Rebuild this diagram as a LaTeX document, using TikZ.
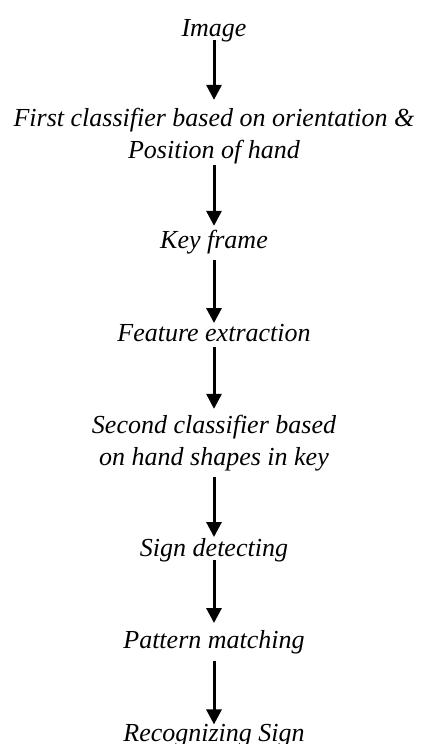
\documentclass[tikz,border=0pt]{standalone}
\usepackage{fontspec}
\setmainfont{Liberation Serif}
\usetikzlibrary{arrows.meta}
\begin{document}
\begin{tikzpicture}[x=1pt,y=-1pt,
  lbl/.style={inner sep=0pt, align=center, font=\fontsize{26}{32}\selectfont\itshape},
  arr/.style={line width=3pt, -{Triangle[width=15pt,length=15pt]}}]
\useasboundingbox (0,0) rectangle (426,744);
\node[lbl] (img)  at (214,31)    {Image};
\node[lbl] (fc)   at (214,136)   {First classifier based on orientation \&\\Position of hand};
\node[lbl] (key)  at (214,242)   {Key frame};
\node[lbl] (feat) at (214,333)   {Feature extraction};
\node[lbl] (sec)  at (214,443)   {Second classifier based\\on hand shapes in key};
\node[lbl] (sign) at (214,550)   {Sign detecting};
\node[lbl] (pat)  at (214,642)   {Pattern matching};
\node[lbl] (rec)  at (214,736)   {Recognizing Sign};
\draw[arr, shorten <=-2pt, shorten >=8pt] (img.south) -- (fc.north);
\draw[arr, shorten <=1pt,  shorten >=4pt] (fc.south) -- (key.north);
\draw[arr, shorten <=6pt,  shorten >=1pt] (key.south) -- (feat.north);
\draw[arr, shorten <=5pt,  shorten >=6pt] (feat.south) -- (sec.north);
\draw[arr, shorten <=6pt,  shorten >=1pt] (sec.south) -- (sign.north);
\draw[arr, shorten <=-2pt, shorten >=7pt] (sign.south) -- (pat.north);
\draw[arr, shorten <=7pt,  shorten >=0pt] (pat.south) -- (rec.north);
\end{tikzpicture}
\end{document}
